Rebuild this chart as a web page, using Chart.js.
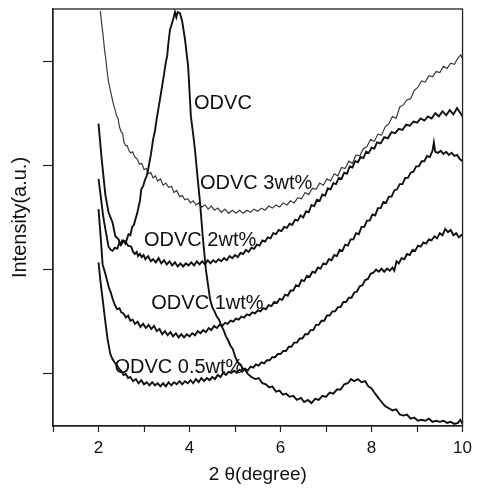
<!doctype html>
<html lang="en">
<head>
  <meta charset="utf-8">
  <title>XRD ODVC</title>
  <script src="https://cdn.jsdelivr.net/npm/chart.js@4.4.0/dist/chart.umd.min.js"></script>
  <style>
    html, body { margin: 0; padding: 0; background: #fff; }
  </style>
</head>
<body>
  <canvas id="xrdChart" width="478" height="490"></canvas>

  <script>
    // values: [2 theta, intensity (a.u., curves offset)]
    var odvc = [[2.0,2.40],[2.07,2.06],[2.15,1.72],[2.22,1.55],[2.31,1.45],[2.37,1.32],[2.44,1.29],[2.48,1.24],[2.52,1.28],[2.55,1.27],[2.59,1.25],[2.63,1.30],[2.66,1.34],[2.7,1.33],[2.74,1.41],[2.78,1.43],[2.81,1.48],[2.85,1.54],[2.88,1.60],[2.91,1.66],[2.94,1.77],[2.98,1.80],[3.02,1.86],[3.06,1.90],[3.09,1.96],[3.15,2.10],[3.20,2.25],[3.24,2.33],[3.28,2.45],[3.35,2.63],[3.42,2.82],[3.48,2.99],[3.51,3.05],[3.53,3.15],[3.57,3.30],[3.64,3.40],[3.68,3.47],[3.71,3.42],[3.74,3.47],[3.79,3.46],[3.84,3.38],[3.90,3.21],[3.97,2.95],[4.03,2.47],[4.08,2.30],[4.12,2.15],[4.18,1.87],[4.23,1.65],[4.29,1.32],[4.36,1.00],[4.45,0.72],[4.5,0.64],[4.55,0.60],[4.6,0.55],[4.65,0.52],[4.7,0.46],[4.75,0.42],[4.8,0.36],[4.85,0.32],[4.9,0.27],[4.95,0.24],[5.0,0.17],[5.06,0.11],[5.12,0.09],[5.17,0.05],[5.22,0.04],[5.28,0.00],[5.36,-0.03],[5.45,-0.05],[5.52,-0.04],[5.6,-0.09],[5.68,-0.10],[5.75,-0.13],[5.82,-0.12],[5.9,-0.17],[5.98,-0.16],[6.05,-0.20],[6.12,-0.19],[6.2,-0.22],[6.28,-0.21],[6.36,-0.25],[6.45,-0.23],[6.52,-0.27],[6.6,-0.25],[6.68,-0.28],[6.76,-0.24],[6.84,-0.25],[6.92,-0.21],[7.0,-0.22],[7.08,-0.18],[7.16,-0.19],[7.24,-0.15],[7.32,-0.15],[7.4,-0.10],[7.48,-0.09],[7.55,-0.05],[7.62,-0.07],[7.7,-0.05],[7.78,-0.08],[7.86,-0.07],[7.93,-0.12],[8.0,-0.14],[8.08,-0.19],[8.15,-0.23],[8.22,-0.27],[8.3,-0.31],[8.38,-0.33],[8.46,-0.35],[8.54,-0.34],[8.62,-0.39],[8.7,-0.40],[8.78,-0.39],[8.86,-0.43],[8.94,-0.42],[9.02,-0.45],[9.1,-0.44],[9.18,-0.45],[9.26,-0.43],[9.34,-0.46],[9.42,-0.45],[9.5,-0.46],[9.58,-0.45],[9.66,-0.47],[9.74,-0.46],[9.82,-0.48],[9.9,-0.47],[9.95,-0.44],[10.0,-0.48]];

    var odvc3 = [[2.04,3.48],[2.07,3.36],[2.1,3.25],[2.13,3.12],[2.16,3.02],[2.19,2.90],[2.22,2.80],[2.25,2.74],[2.28,2.68],[2.32,2.60],[2.36,2.54],[2.4,2.47],[2.43,2.45],[2.46,2.37],[2.5,2.32],[2.53,2.31],[2.56,2.22],[2.6,2.19],[2.63,2.19],[2.67,2.14],[2.71,2.12],[2.75,2.13],[2.8,2.08],[2.85,2.06],[2.9,2.01],[2.95,2.02],[3.0,1.96],[3.05,1.97],[3.1,1.92],[3.15,1.93],[3.2,1.88],[3.25,1.90],[3.3,1.85],[3.36,1.87],[3.42,1.81],[3.48,1.83],[3.54,1.79],[3.6,1.80],[3.66,1.74],[3.72,1.76],[3.78,1.70],[3.84,1.71],[3.9,1.67],[3.96,1.68],[4.02,1.64],[4.08,1.66],[4.14,1.62],[4.2,1.64],[4.27,1.60],[4.34,1.62],[4.41,1.58],[4.48,1.61],[4.55,1.57],[4.62,1.59],[4.7,1.55],[4.78,1.58],[4.86,1.54],[4.94,1.57],[5.02,1.54],[5.1,1.57],[5.18,1.54],[5.26,1.57],[5.34,1.55],[5.42,1.58],[5.5,1.56],[5.58,1.59],[5.66,1.57],[5.74,1.61],[5.82,1.59],[5.9,1.62],[5.98,1.60],[6.06,1.64],[6.14,1.62],[6.22,1.66],[6.3,1.64],[6.38,1.69],[6.46,1.68],[6.54,1.74],[6.62,1.72],[6.7,1.78],[6.78,1.77],[6.86,1.83],[6.94,1.81],[7.02,1.87],[7.1,1.85],[7.18,1.92],[7.26,1.90],[7.34,1.98],[7.42,1.97],[7.5,2.04],[7.58,2.02],[7.66,2.10],[7.74,2.09],[7.82,2.16],[7.9,2.18],[7.98,2.25],[8.06,2.23],[8.14,2.30],[8.22,2.29],[8.3,2.37],[8.38,2.40],[8.46,2.47],[8.54,2.45],[8.62,2.56],[8.7,2.58],[8.78,2.63],[8.86,2.64],[8.94,2.72],[9.02,2.75],[9.1,2.81],[9.18,2.80],[9.26,2.86],[9.34,2.85],[9.42,2.90],[9.5,2.89],[9.58,2.95],[9.66,2.93],[9.74,2.98],[9.82,2.97],[9.9,3.03],[9.96,3.06],[10.0,3.02]];

    var odvc2 = [[2.0,1.87],[2.05,1.70],[2.10,1.52],[2.15,1.39],[2.22,1.22],[2.27,1.19],[2.31,1.18],[2.36,1.21],[2.41,1.20],[2.46,1.26],[2.50,1.24],[2.55,1.28],[2.59,1.27],[2.65,1.23],[2.72,1.22],[2.76,1.17],[2.80,1.15],[2.84,1.17],[2.87,1.13],[2.91,1.15],[2.95,1.12],[2.99,1.14],[3.03,1.10],[3.09,1.13],[3.15,1.08],[3.2,1.10],[3.26,1.07],[3.32,1.11],[3.38,1.06],[3.44,1.09],[3.5,1.05],[3.56,1.08],[3.62,1.04],[3.68,1.07],[3.74,1.03],[3.8,1.06],[3.86,1.03],[3.92,1.06],[3.98,1.04],[4.04,1.07],[4.1,1.04],[4.16,1.08],[4.22,1.05],[4.28,1.08],[4.34,1.05],[4.4,1.09],[4.46,1.06],[4.52,1.09],[4.58,1.07],[4.64,1.10],[4.7,1.08],[4.76,1.11],[4.82,1.09],[4.88,1.13],[4.94,1.11],[5.0,1.14],[5.06,1.12],[5.12,1.16],[5.18,1.15],[5.24,1.19],[5.3,1.17],[5.36,1.21],[5.42,1.20],[5.48,1.24],[5.54,1.23],[5.6,1.28],[5.66,1.27],[5.72,1.31],[5.78,1.30],[5.84,1.35],[5.9,1.34],[5.96,1.38],[6.02,1.37],[6.08,1.41],[6.14,1.40],[6.2,1.44],[6.26,1.43],[6.32,1.48],[6.38,1.47],[6.44,1.52],[6.5,1.50],[6.56,1.56],[6.62,1.55],[6.68,1.62],[6.74,1.61],[6.8,1.67],[6.86,1.66],[6.92,1.72],[6.98,1.71],[7.04,1.78],[7.1,1.77],[7.16,1.83],[7.22,1.82],[7.28,1.88],[7.34,1.87],[7.4,1.93],[7.46,1.92],[7.52,1.99],[7.58,1.98],[7.64,2.04],[7.7,2.03],[7.76,2.08],[7.82,2.07],[7.88,2.13],[7.94,2.12],[8.0,2.17],[8.06,2.16],[8.12,2.22],[8.2,2.21],[8.28,2.27],[8.36,2.26],[8.44,2.32],[8.52,2.31],[8.6,2.35],[8.68,2.34],[8.76,2.39],[8.84,2.38],[8.92,2.42],[9.0,2.41],[9.08,2.45],[9.16,2.43],[9.24,2.47],[9.32,2.45],[9.4,2.50],[9.48,2.47],[9.56,2.52],[9.64,2.48],[9.72,2.53],[9.8,2.49],[9.88,2.55],[9.94,2.51],[10.0,2.47]];

    var odvc1 = [[2.0,1.58],[2.05,1.30],[2.09,1.05],[2.15,0.96],[2.22,0.84],[2.27,0.78],[2.31,0.72],[2.36,0.66],[2.41,0.62],[2.46,0.63],[2.5,0.59],[2.55,0.58],[2.6,0.54],[2.65,0.56],[2.7,0.51],[2.75,0.52],[2.8,0.48],[2.86,0.50],[2.92,0.45],[2.98,0.48],[3.04,0.44],[3.1,0.47],[3.16,0.43],[3.22,0.46],[3.28,0.41],[3.34,0.43],[3.4,0.38],[3.46,0.41],[3.52,0.37],[3.58,0.40],[3.64,0.36],[3.7,0.39],[3.76,0.35],[3.82,0.38],[3.88,0.35],[3.94,0.38],[4.0,0.36],[4.06,0.39],[4.12,0.37],[4.18,0.41],[4.24,0.39],[4.3,0.42],[4.36,0.40],[4.42,0.44],[4.48,0.42],[4.54,0.46],[4.6,0.44],[4.66,0.47],[4.72,0.46],[4.78,0.49],[4.84,0.48],[4.9,0.51],[4.96,0.50],[5.02,0.53],[5.08,0.52],[5.14,0.55],[5.2,0.54],[5.26,0.57],[5.32,0.56],[5.38,0.59],[5.44,0.58],[5.5,0.61],[5.56,0.60],[5.62,0.63],[5.68,0.62],[5.74,0.66],[5.8,0.65],[5.86,0.69],[5.92,0.68],[5.98,0.72],[6.04,0.71],[6.1,0.76],[6.16,0.75],[6.22,0.80],[6.28,0.80],[6.34,0.85],[6.4,0.84],[6.46,0.90],[6.52,0.89],[6.58,0.94],[6.64,0.93],[6.7,0.98],[6.76,0.97],[6.82,1.02],[6.88,1.01],[6.94,1.06],[7.0,1.05],[7.06,1.10],[7.12,1.09],[7.18,1.14],[7.24,1.13],[7.3,1.19],[7.36,1.18],[7.42,1.24],[7.48,1.23],[7.54,1.29],[7.6,1.29],[7.66,1.35],[7.72,1.34],[7.78,1.41],[7.84,1.41],[7.9,1.47],[7.96,1.47],[8.02,1.53],[8.08,1.52],[8.14,1.59],[8.2,1.59],[8.26,1.65],[8.32,1.64],[8.38,1.70],[8.44,1.70],[8.5,1.76],[8.56,1.77],[8.62,1.82],[8.68,1.82],[8.74,1.88],[8.8,1.88],[8.86,1.93],[8.92,1.94],[8.98,1.99],[9.04,1.99],[9.1,2.04],[9.16,2.04],[9.22,2.09],[9.28,2.08],[9.34,2.14],[9.37,2.22],[9.4,2.13],[9.46,2.12],[9.52,2.14],[9.58,2.11],[9.64,2.13],[9.7,2.10],[9.76,2.12],[9.82,2.09],[9.88,2.10],[9.94,2.06],[10.0,2.04]];

    var odvc05 = [[2.0,1.07],[2.04,0.90],[2.09,0.72],[2.15,0.50],[2.20,0.33],[2.26,0.19],[2.31,0.14],[2.37,0.10],[2.41,0.08],[2.45,0.05],[2.5,0.03],[2.55,-0.01],[2.6,0.00],[2.65,-0.04],[2.7,-0.03],[2.76,-0.07],[2.82,-0.05],[2.88,-0.09],[2.94,-0.06],[3.0,-0.10],[3.06,-0.08],[3.12,-0.11],[3.18,-0.08],[3.24,-0.11],[3.3,-0.09],[3.36,-0.12],[3.42,-0.09],[3.48,-0.12],[3.54,-0.08],[3.6,-0.11],[3.66,-0.08],[3.72,-0.10],[3.78,-0.07],[3.84,-0.10],[3.9,-0.07],[3.96,-0.09],[4.02,-0.06],[4.08,-0.09],[4.14,-0.05],[4.2,-0.08],[4.26,-0.04],[4.32,-0.07],[4.38,-0.04],[4.44,-0.06],[4.5,-0.03],[4.56,-0.05],[4.62,-0.01],[4.68,-0.03],[4.74,0.01],[4.8,-0.01],[4.86,0.02],[4.92,0.01],[4.98,0.03],[5.04,0.01],[5.1,0.04],[5.16,0.02],[5.22,0.05],[5.28,0.03],[5.34,0.07],[5.4,0.06],[5.46,0.09],[5.52,0.08],[5.58,0.11],[5.64,0.10],[5.7,0.13],[5.76,0.13],[5.82,0.16],[5.88,0.16],[5.94,0.19],[6.0,0.19],[6.06,0.22],[6.12,0.22],[6.18,0.26],[6.24,0.26],[6.3,0.30],[6.36,0.30],[6.42,0.34],[6.48,0.34],[6.54,0.38],[6.6,0.38],[6.66,0.42],[6.72,0.42],[6.78,0.47],[6.84,0.47],[6.9,0.51],[6.96,0.51],[7.02,0.56],[7.08,0.56],[7.14,0.60],[7.2,0.60],[7.26,0.64],[7.32,0.64],[7.38,0.69],[7.44,0.69],[7.5,0.73],[7.56,0.73],[7.62,0.78],[7.68,0.79],[7.74,0.84],[7.8,0.85],[7.86,0.90],[7.92,0.91],[7.98,0.96],[8.04,0.97],[8.1,1.00],[8.16,0.98],[8.22,1.01],[8.28,0.98],[8.34,1.01],[8.4,0.99],[8.46,1.02],[8.5,0.99],[8.55,1.08],[8.6,1.06],[8.66,1.11],[8.72,1.10],[8.78,1.15],[8.84,1.14],[8.9,1.19],[8.96,1.18],[9.02,1.23],[9.08,1.22],[9.14,1.26],[9.2,1.25],[9.26,1.29],[9.32,1.28],[9.38,1.32],[9.44,1.30],[9.5,1.35],[9.56,1.33],[9.62,1.39],[9.68,1.36],[9.74,1.38],[9.8,1.33],[9.86,1.35],[9.92,1.31],[10.0,1.34]];

    var xTicks = [1, 2, 3, 4, 5, 6, 7, 8, 9, 10];
    var xLabels = [2, 4, 6, 8, 10];
    var yTicks = [0, 1, 2, 3];

    // curve names written inside the plot, anchored at [x, y] in data units
    var curveLabels = [
      ['ODVC', 4.10, 2.59],
      ['ODVC 3wt%', 4.23, 1.83],
      ['ODVC 2wt%', 3.00, 1.28],
      ['ODVC 1wt%', 3.16, 0.68],
      ['ODVC 0.5wt%', 2.35, 0.06]
    ];

    var FONT = '"Liberation Sans", Arial, sans-serif';

    function toPoints(arr) {
      return arr.map(function (p) { return { x: p[0], y: p[1] }; });
    }

    function line(label, arr, color, width) {
      return {
        label: label,
        data: toPoints(arr),
        borderColor: color,
        borderWidth: width,
        pointRadius: 0,
        tension: 0,
        fill: false
      };
    }

    // box round the plot + in-plot curve names
    var framePlugin = {
      id: 'frame',
      afterDatasetsDraw: function (chart) {
        var ctx = chart.ctx, a = chart.chartArea;
        var xs = chart.scales.x, ys = chart.scales.y;
        ctx.save();
        ctx.strokeStyle = '#222';
        ctx.lineWidth = 1.3;
        ctx.strokeRect(a.left, a.top, a.right - a.left, a.bottom - a.top);
        ctx.fillStyle = '#111';
        ctx.font = '20px ' + FONT;
        ctx.textAlign = 'left';
        ctx.textBaseline = 'middle';
        curveLabels.forEach(function (l) {
          ctx.fillText(l[0], xs.getPixelForValue(l[1]), ys.getPixelForValue(l[2]));
        });
        ctx.restore();
      }
    };

    var chart = new Chart(document.getElementById('xrdChart'), {
      type: 'line',
      data: {
        datasets: [
          line('ODVC', odvc, '#111', 1.9),
          line('ODVC 3wt%', odvc3, '#3a3a3a', 1.2),
          line('ODVC 2wt%', odvc2, '#111', 1.9),
          line('ODVC 1wt%', odvc1, '#111', 1.9),
          line('ODVC 0.5wt%', odvc05, '#111', 1.9)
        ]
      },
      options: {
        responsive: false,
        animation: false,
        layout: { padding: { top: 9, right: 12, left: 0, bottom: 0 } },
        plugins: {
          legend: { display: false },
          tooltip: { enabled: false }
        },
        scales: {
          x: {
            type: 'linear',
            min: 1,
            max: 10,
            afterBuildTicks: function (s) { s.ticks = xTicks.map(function (v) { return { value: v }; }); },
            afterFit: function (s) { s.height = 64; },
            grid: { drawOnChartArea: false, tickLength: 6, tickColor: '#222', tickWidth: 1.2 },
            border: { color: '#222', width: 1.3 },
            ticks: {
              padding: 6,
              color: '#111',
              font: { family: FONT, size: 17 },
              maxRotation: 0,
              callback: function (v) { return xLabels.indexOf(v) >= 0 ? String(v) : ''; }
            },
            title: {
              display: true,
              text: '2 θ(degree)',
              color: '#111',
              font: { family: FONT, size: 19 },
              padding: { top: 0, bottom: 4 }
            }
          },
          y: {
            type: 'linear',
            min: -0.5,
            max: 3.5,
            afterBuildTicks: function (s) { s.ticks = yTicks.map(function (v) { return { value: v }; }); },
            afterFit: function (s) { s.width = 53; },
            grid: { drawOnChartArea: false, tickLength: 10, tickColor: '#222', tickWidth: 1.2 },
            border: { color: '#222', width: 1.3 },
            ticks: { display: false },
            title: {
              display: true,
              text: 'Intensity(a.u.)',
              color: '#111',
              font: { family: FONT, size: 20 },
              padding: { top: 8, bottom: 0 }
            }
          }
        }
      },
      plugins: [framePlugin]
    });
  </script>
</body>
</html>
